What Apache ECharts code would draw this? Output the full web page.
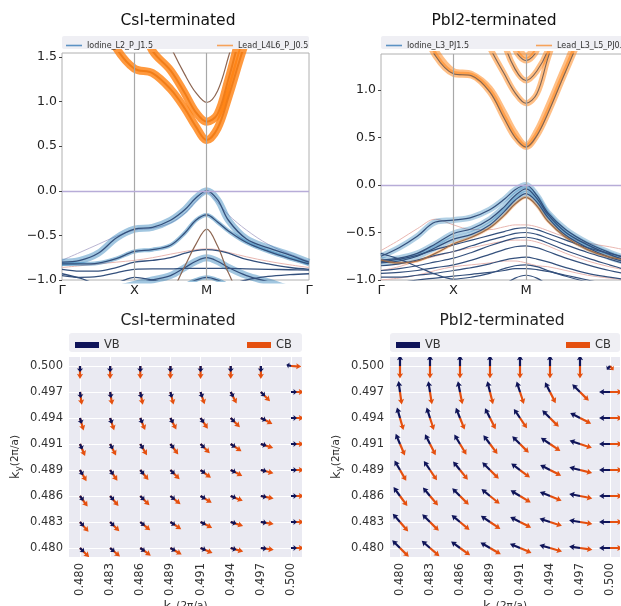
<!DOCTYPE html>
<html><head><meta charset="utf-8">
<script src="https://cdn.jsdelivr.net/npm/echarts@6/dist/echarts.min.js"></script>
<style>html,body{margin:0;padding:0;background:#fff}#c{width:621px;height:606px}</style>
</head><body><div id="c"></div>
<script>
// ---------- band-structure data ----------
const kPath = [0, 0.25, 0.5, 0.75, 1.0, 1.25, 1.5, 1.7, 1.85, 2.0, 2.15, 2.3, 2.55, 2.85, 3.15, 3.414];
const kTickPos = [0, 1, 2, 3.414];
const kTickLabels = ['Γ', 'X', 'M', 'Γ'];
const eTicksCsI = [-1.0, -0.5, 0.0, 0.5, 1.0, 1.5];
const eTickLabelsCsI = ['−1.0', '−0.5', '0.0', '0.5', '1.0', '1.5'];
const eTicksPbI2 = [-1.0, -0.5, 0.0, 0.5, 1.0];
const eTickLabelsPbI2 = ['−1.0', '−0.5', '0.0', '0.5', '1.0'];
const fermiLevel = 0.0;

// CsI-terminated
const csiCB1 = [2.6, 2.3, 2.0, 1.6, 1.37, 1.32, 1.14, 0.92, 0.72, 0.57, 0.70, 1.05, 1.70, 2.3, 2.6, 2.7];
const csiCB2 = [2.8, 2.6, 2.4, 2.2, 2.0, 1.57, 1.35, 1.09, 0.88, 0.775, 0.86, 1.25, 1.95, 2.4, 2.6, 2.7];
const csiCB3 = [2.8, 2.7, 2.6, 2.5, 2.4, 2.1, 1.62, 1.30, 1.10, 0.99, 1.12, 1.50, 2.2, 2.6, 2.7, 2.8];
const csiV1  = [-0.80, -0.78, -0.70, -0.53, -0.43, -0.41, -0.33, -0.21, -0.08, 0.0, -0.10, -0.33, -0.54, -0.64, -0.72, -0.80];
const csiV1b = [-0.78, -0.69, -0.60, -0.51, -0.44, -0.42, -0.36, -0.25, -0.12, -0.02, -0.13, -0.27, -0.44, -0.60, -0.71, -0.79];
const csiV2  = [-0.82, -0.82, -0.81, -0.76, -0.68, -0.66, -0.61, -0.47, -0.33, -0.27, -0.35, -0.45, -0.58, -0.68, -0.76, -0.82];
const csiV3  = [-1.5, -1.5, -1.5, -1.5, -1.45, -1.35, -1.15, -0.84, -0.60, -0.43, -0.62, -0.92, -1.3, -1.5, -1.5, -1.5];
const csiV3p = [-0.86, -0.84, -0.82, -0.80, -0.78, -0.75, -0.71, -0.68, -0.66, -0.65, -0.66, -0.69, -0.74, -0.79, -0.83, -0.86];
const csiV4  = [-0.88, -0.90, -0.90, -0.86, -0.80, -0.78, -0.75, -0.70, -0.67, -0.66, -0.67, -0.70, -0.77, -0.82, -0.86, -0.88];
const csiV5  = [-1.2, -1.2, -1.15, -1.1, -1.05, -1.0, -0.95, -0.86, -0.79, -0.75, -0.79, -0.86, -0.95, -1.02, -1.1, -1.15];
const csiV6  = [-0.95, -0.97, -0.96, -0.92, -0.88, -0.875, -0.875, -0.87, -0.87, -0.87, -0.87, -0.87, -0.875, -0.88, -0.885, -0.89];
const csiV7  = [-1.3, -1.3, -1.3, -1.3, -1.3, -1.25, -1.15, -1.06, -1.0, -0.97, -1.0, -1.06, -1.15, -1.25, -1.3, -1.3];
const csiV8  = [-0.93, -0.98, -1.04, -1.03, -0.97, -1.0, -1.06, -1.12, -1.15, -1.16, -1.12, -1.06, -1.0, -0.96, -0.94, -0.93];

// PbI2-terminated
const pbCB1  = [2.2, 2.0, 1.75, 1.36, 1.17, 1.15, 0.98, 0.70, 0.50, 0.40, 0.52, 0.75, 1.2, 1.7, 2.0, 2.2];
const pbCB1b = [2.25, 2.05, 1.8, 1.42, 1.20, 1.17, 1.02, 0.76, 0.55, 0.42, 0.57, 0.82, 1.27, 1.78, 2.05, 2.25];
const pbCB2  = [2.6, 2.5, 2.4, 2.3, 2.2, 1.9, 1.45, 1.17, 0.97, 0.86, 0.96, 1.33, 1.9, 2.4, 2.5, 2.6];
const pbCB3  = [2.8, 2.8, 2.8, 2.7, 2.6, 2.4, 2.2, 1.50, 1.22, 1.10, 1.20, 1.42, 2.1, 2.6, 2.8, 2.8];
const pbCB4  = [2.8, 2.8, 2.8, 2.8, 2.8, 2.7, 2.5, 1.90, 1.43, 1.31, 1.42, 1.90, 2.5, 2.8, 2.8, 2.8];
const pbCB5  = [2.8, 2.8, 2.8, 2.8, 2.8, 2.8, 2.7, 2.2, 1.55, 1.36, 1.52, 2.2, 2.7, 2.8, 2.8, 2.8];
const pbV1 = [-0.75, -0.66, -0.54, -0.39, -0.37, -0.34, -0.26, -0.15, -0.05, 0.0, -0.11, -0.29, -0.47, -0.61, -0.71, -0.78];
const pbV2 = [-0.79, -0.77, -0.72, -0.62, -0.51, -0.46, -0.36, -0.23, -0.11, -0.04, -0.14, -0.31, -0.50, -0.63, -0.73, -0.80];
const pbV3 = [-0.82, -0.80, -0.75, -0.66, -0.57, -0.52, -0.42, -0.28, -0.16, -0.09, -0.18, -0.34, -0.53, -0.66, -0.76, -0.82];
const pbV4 = [-0.79, -0.82, -0.80, -0.72, -0.62, -0.55, -0.45, -0.32, -0.20, -0.13, -0.22, -0.38, -0.55, -0.68, -0.76, -0.79];
const pbL1 = [-0.81, -0.78, -0.74, -0.68, -0.63, -0.58, -0.53, -0.49, -0.46, -0.45, -0.47, -0.51, -0.58, -0.66, -0.72, -0.77];
const pbL2 = [-0.85, -0.83, -0.79, -0.74, -0.70, -0.64, -0.58, -0.54, -0.51, -0.50, -0.52, -0.56, -0.63, -0.71, -0.78, -0.84];
const pbL3 = [-0.90, -0.88, -0.85, -0.81, -0.77, -0.71, -0.64, -0.59, -0.56, -0.55, -0.57, -0.61, -0.69, -0.77, -0.84, -0.90];
const pbL4 = [-0.93, -0.92, -0.90, -0.87, -0.84, -0.79, -0.73, -0.68, -0.65, -0.64, -0.66, -0.70, -0.77, -0.84, -0.90, -0.94];
const pbL5 = [-0.97, -0.97, -0.95, -0.93, -0.90, -0.87, -0.83, -0.79, -0.77, -0.76, -0.78, -0.81, -0.87, -0.93, -0.97, -1.0];
const pbL6 = [-1.05, -1.03, -1.0, -0.98, -0.96, -0.94, -0.92, -0.90, -0.88, -0.88, -0.89, -0.91, -0.95, -1.0, -1.05, -1.08];
const pbL7 = [-1.3, -1.3, -1.3, -1.3, -1.3, -1.25, -1.15, -1.05, -0.98, -0.95, -0.98, -1.05, -1.15, -1.25, -1.3, -1.3];
const pbL8 = [-0.72, -0.78, -0.86, -0.94, -0.99, -0.97, -0.93, -0.88, -0.85, -0.84, -0.86, -0.90, -0.96, -1.02, -1.06, -1.1];
const pbP1 = [-0.69, -0.58, -0.46, -0.36, -0.42, -0.47, -0.47, -0.44, -0.42, -0.42, -0.44, -0.48, -0.55, -0.61, -0.65, -0.69];
const pbP2 = [-0.90, -0.86, -0.80, -0.75, -0.70, -0.66, -0.62, -0.59, -0.58, -0.58, -0.60, -0.64, -0.72, -0.80, -0.86, -0.90];
const pbP3 = [-1.0, -0.98, -0.95, -0.90, -0.86, -0.84, -0.82, -0.80, -0.80, -0.82, -0.85, -0.86, -0.90, -0.95, -0.98, -1.0];

// ---------- spin-texture data ----------
const kxVals = [0.480, 0.482857, 0.485714, 0.488571, 0.491429, 0.494286, 0.497143, 0.500];
const kyVals = [0.500, 0.497143, 0.494286, 0.491429, 0.488571, 0.485714, 0.482857, 0.480]; // rows top -> bottom
const kTickText = ['0.480', '0.483', '0.486', '0.489', '0.491', '0.494', '0.497', '0.500'];
const kTickTextY = ['0.500', '0.497', '0.494', '0.491', '0.489', '0.486', '0.483', '0.480'];
// arrow angles in degrees (rows top->bottom, columns kx 0.480 -> 0.500)
const csiCBAng = [
  -90,-90,-90,-90,-90,-90,-90,-3,
  -82,-81,-79,-76,-72,-63,-45,0,
  -74,-72,-68,-63,-56,-45,-27,0,
  -67,-63,-59,-53,-45,-34,-18,0,
  -60,-56,-51,-45,-37,-27,-14,0,
  -54,-50,-45,-39,-31,-22,-11,0,
  -49,-45,-40,-34,-27,-18,-9,0,
  -45,-41,-36,-30,-23,-16,-8,0];
const csiVBAng = [
  -90,-90,-90,-90,-90,-90,-90,165,
  -82,-81,-79,-76,-72,-63,-45,0,
  -74,-72,-68,-63,-56,-45,-27,0,
  -67,-63,-59,-53,-45,-34,-18,0,
  -60,-56,-51,-45,-37,-27,-14,0,
  -54,-50,-45,-39,-31,-22,-11,0,
  -49,-45,-40,-34,-27,-18,-9,0,
  -45,-41,-36,-30,-23,-16,-8,0];
const pbCBAng = [
  -90,-90,-90,-90,-90,-90,-90,-50,
  -82,-81,-79,-76,-72,-63,-45,0,
  -74,-72,-68,-63,-56,-45,-27,0,
  -67,-63,-59,-53,-45,-34,-18,0,
  -60,-56,-51,-45,-37,-27,-14,0,
  -54,-50,-45,-39,-31,-22,-11,0,
  -49,-45,-40,-34,-27,-18,-9,0,
  -45,-41,-36,-30,-23,-16,-8,0];
const pbVBAng = [
  90,90,90,90,90,90,90,-130,
  98,99,101,104,108,117,135,180,
  106,108,112,117,124,135,153,180,
  113,117,121,127,135,146,162,180,
  120,124,129,135,143,153,166,180,
  126,130,135,141,149,158,169,180,
  131,135,140,146,153,162,171,180,
  135,139,144,150,157,164,172,180];
// relative arrow magnitudes (only the M corner differs)
const csiMag = [1,1,1,1,1,1,1,0.8, 1,1,1,1,1,1,1,1, 1,1,1,1,1,1,1,1, 1,1,1,1,1,1,1,1, 1,1,1,1,1,1,1,1, 1,1,1,1,1,1,1,1, 1,1,1,1,1,1,1,1, 1,1,1,1,1,1,1,1];
const pbMag  = [1,1,1,1,1,1,1,0.45, 1,1,1,1,1,1,1,1, 1,1,1,1,1,1,1,1, 1,1,1,1,1,1,1,1, 1,1,1,1,1,1,1,1, 1,1,1,1,1,1,1,1, 1,1,1,1,1,1,1,1, 1,1,1,1,1,1,1,1];

// ---------- helpers ----------
const FONT = 'DejaVu Sans';
function lookup(vals, labels) {
  return function (v) {
    for (let i = 0; i < vals.length; i++) if (Math.abs(vals[i] - v) < 1e-6) return labels[i];
    return '';
  };
}
function bandSeries(name, gi, bands, lineStyle, z) {
  return bands.map(b => ({
    type: 'line', name: name, xAxisIndex: gi, yAxisIndex: gi,
    data: kPath.map((k, j) => [k, b[j]]),
    smooth: 0.35, showSymbol: false, symbol: 'none', silent: true,
    lineStyle: lineStyle, z: z, clip: true
  }));
}
function quiverData(ang, mag) {
  const out = [];
  for (let r = 0; r < 8; r++) for (let c = 0; c < 8; c++) {
    out.push([kxVals[c], kyVals[r], ang[r * 8 + c], mag[r * 8 + c]]);
  }
  return out;
}
function arrowRender(lenPx, color) {
  return function (params, api) {
    const p = api.coord([api.value(0), api.value(1)]);
    const a = api.value(2) * Math.PI / 180;
    const L = lenPx * api.value(3);
    const ux = Math.cos(a), uy = -Math.sin(a);
    const nx = -uy, ny = ux;
    const hw = 1.1, hh = 3.1;
    const hl = Math.min(5.2, L * 0.6), ha = hl * 0.88;
    const pt = (s, t) => [p[0] + ux * s + nx * t, p[1] + uy * s + ny * t];
    return {
      type: 'polygon',
      shape: { points: [pt(0, hw), pt(L - ha, hw), pt(L - hl, hh), pt(L, 0), pt(L - hl, -hh), pt(L - ha, -hw), pt(0, -hw)] },
      style: { fill: color }
    };
  };
}
function quiverSeries(name, gi, ang, mag, lenPx, color, z) {
  return {
    type: 'custom', name: name, xAxisIndex: gi, yAxisIndex: gi,
    data: quiverData(ang, mag), encode: { x: 0, y: 1 },
    renderItem: arrowRender(lenPx, color), itemStyle: { color: color },
    clip: true, silent: true, z: z
  };
}

const C_DARK = '#34507c', C_BROWN = '#8d6652', C_PINK = '#e9b7b1', C_LAV = '#bab5d2';
const C_VB = '#0f1459', C_CB = '#e5500f';

const refLines = (gi) => ({
  type: 'line', name: 'ref' + gi, xAxisIndex: gi, yAxisIndex: gi, data: [], silent: true, z: 1,
  markLine: {
    silent: true, symbol: 'none', label: { show: false }, animation: false,
    lineStyle: { color: '#a8a8a8', width: 1.2, type: 'solid' },
    data: [{ xAxis: kTickPos[1] }, { xAxis: kTickPos[2] },
           { yAxis: fermiLevel, lineStyle: { color: '#b7acd8', width: 1.3, type: 'solid' } }]
  }
});

const series = [].concat(
  [refLines(0)],
  bandSeries('csi-lav', 0, [csiV1b], { color: C_LAV, width: 1 }, 2),
  bandSeries('csi-pink', 0, [csiV3p], { color: C_PINK, width: 1 }, 2),
  bandSeries('Iodine_L2_P_J1.5', 0, [csiV1, csiV5], { color: '#1f77b4', width: 7, opacity: 0.42 }, 3),
  bandSeries('csi-bmed', 0, [csiV2, csiV7], { color: '#1f77b4', width: 4, opacity: 0.45 }, 3),
  bandSeries('Lead_L4L6_P_J0.5', 0, [csiCB1, csiCB2], { color: '#ff7f0e', width: 8, opacity: 0.8 }, 3),
  bandSeries('csi-ocore', 0, [csiCB1, csiCB2], { color: '#f07a14', width: 2, opacity: 0.9 }, 4),
  bandSeries('csi-dark', 0, [csiV1, csiV2, csiV4, csiV5, csiV6, csiV7, csiV8], { color: C_DARK, width: 1.3 }, 4),
  bandSeries('csi-brown', 0, [csiCB3, csiV3], { color: C_BROWN, width: 1.2 }, 4),

  [refLines(1)],
  bandSeries('pb-pink', 1, [pbP1, pbP2, pbP3], { color: C_PINK, width: 1 }, 2),
  bandSeries('Iodine_L3_PJ1.5', 1, [pbV1, pbV2, pbV3], { color: '#1f77b4', width: 6, opacity: 0.35 }, 3),
  bandSeries('Lead_L3_L5_PJ0.5', 1, [pbCB1, pbCB1b, pbCB2, pbCB3, pbCB4, pbCB5], { color: '#ff7f0e', width: 6, opacity: 0.5 }, 3),
  bandSeries('pb-ohalo', 1, [pbV4], { color: '#ff7f0e', width: 3, opacity: 0.35 }, 3),
  bandSeries('pb-dark', 1, [pbV1, pbV2, pbV3, pbL1, pbL2, pbL3, pbL4, pbL5, pbL6, pbL7, pbL8], { color: C_DARK, width: 1.2 }, 4),
  bandSeries('pb-cbcore', 1, [pbCB1, pbCB2, pbCB3, pbCB4], { color: '#7d6455', width: 1.1 }, 4),
  bandSeries('pb-brown', 1, [pbV4], { color: '#9a6a48', width: 1.2 }, 4),

  [quiverSeries('CB', 2, csiCBAng, csiMag, 13, C_CB, 5),
   quiverSeries('VB', 2, csiVBAng, csiMag, 6, C_VB, 6),
   quiverSeries('CB', 3, pbCBAng, pbMag, 12.5, C_CB, 5),
   quiverSeries('VB', 3, pbVBAng, pbMag, 11, C_VB, 6)]
);

const bandX = (gi) => ({
  gridIndex: gi, type: 'value', min: 0, max: 3.414,
  axisLine: { show: false }, splitLine: { show: false },
  axisTick: { show: false },
  axisLabel: { customValues: kTickPos, formatter: lookup(kTickPos, kTickLabels), fontSize: 13, color: '#222', margin: 4, fontFamily: FONT, showMinLabel: true, showMaxLabel: true }
});
const bandY = (gi, max, ticks, labels) => ({
  gridIndex: gi, type: 'value', min: -1, max: max,
  axisLine: { show: false }, splitLine: { show: false },
  axisTick: { show: true, customValues: ticks, length: 3, lineStyle: { color: '#444' } },
  axisLabel: { customValues: ticks, formatter: lookup(ticks, labels), fontSize: 12.5, color: '#222', margin: 5, fontFamily: FONT }
});
const nameRich = {
  k: { fontSize: 13, color: '#333', fontFamily: FONT },
  s: { fontSize: 9, color: '#333', fontFamily: FONT, verticalAlign: 'bottom', padding: [6, 0, 0, 0] },
  f: { fontSize: 10.5, color: '#333', fontFamily: FONT }
};
const qX = (gi, min, max) => ({
  gridIndex: gi, type: 'value', min: min, max: max,
  axisLine: { show: false },
  axisTick: { show: false, customValues: kxVals },
  splitLine: { show: true, lineStyle: { color: '#ffffff', width: 1 } },
  axisLabel: { customValues: kxVals, formatter: lookup(kxVals, kTickText), rotate: 90, fontSize: 11.5, color: '#333', margin: 6, fontFamily: FONT },
  name: '{k|k}{s|x}{f|(2π/a)}', nameLocation: 'middle', nameGap: 39,
  nameTextStyle: { rich: nameRich }
});
const qY = (gi) => ({
  gridIndex: gi, type: 'value', min: 0.479011, max: 0.500989,
  axisLine: { show: false },
  axisTick: { show: false, customValues: kyVals },
  splitLine: { show: true, lineStyle: { color: '#ffffff', width: 1 } },
  axisLabel: { customValues: kyVals, formatter: lookup(kyVals, kTickTextY), fontSize: 11.5, color: '#333', margin: 6, fontFamily: FONT },
  name: '{k|k}{s|y}{f|(2π/a)}', nameLocation: 'middle', nameGap: 46, nameRotate: 90,
  nameTextStyle: { rich: nameRich }
});

const legendText = { fontSize: 8, color: '#333', fontFamily: FONT };
const qLegendText = { fontSize: 11.5, color: '#333', fontFamily: FONT };
const option = {
  animation: false,
  backgroundColor: '#ffffff',
  grid: [
    { left: 62, top: 53, width: 247, height: 227, show: true, borderColor: '#b0b0b0', borderWidth: 1, backgroundColor: 'transparent', outerBoundsMode: 'none', containLabel: false },
    { left: 381, top: 54, width: 247.5, height: 226, show: true, borderColor: '#b0b0b0', borderWidth: 1, backgroundColor: 'transparent', outerBoundsMode: 'none', containLabel: false },
    { left: 69, top: 357, width: 233, height: 200, show: true, borderWidth: 0, backgroundColor: '#eaeaf2', outerBoundsMode: 'none', containLabel: false },
    { left: 390, top: 357, width: 230, height: 200, show: true, borderWidth: 0, backgroundColor: '#eaeaf2', outerBoundsMode: 'none', containLabel: false }
  ],
  xAxis: [bandX(0), bandX(1), qX(2, 0.478957, 0.501043), qX(3, 0.479048, 0.500952)],
  yAxis: [bandY(0, 1.545, eTicksCsI, eTickLabelsCsI), bandY(1, 1.379, eTicksPbI2, eTickLabelsPbI2), qY(2), qY(3)],
  legend: [
    { data: [{ name: 'Iodine_L2_P_J1.5', icon: 'rect', itemStyle: { color: '#5b92c4' } }], left: 66, top: 41.5, padding: 0, itemWidth: 16, itemHeight: 1.6, textStyle: legendText, selectedMode: false, z: 10 },
    { data: [{ name: 'Lead_L4L6_P_J0.5', icon: 'rect', itemStyle: { color: '#f6a25a' } }], left: 217, top: 41.5, padding: 0, itemWidth: 16, itemHeight: 1.6, textStyle: legendText, selectedMode: false, z: 10 },
    { data: [{ name: 'Iodine_L3_PJ1.5', icon: 'rect', itemStyle: { color: '#5b92c4' } }], left: 386, top: 41.5, padding: 0, itemWidth: 16, itemHeight: 1.6, textStyle: legendText, selectedMode: false, z: 10 },
    { data: [{ name: 'Lead_L3_L5_PJ0.5', icon: 'rect', itemStyle: { color: '#f6a25a' } }], left: 536, top: 41.5, padding: 0, itemWidth: 16, itemHeight: 1.6, textStyle: legendText, selectedMode: false, z: 10 },
    { data: [{ name: 'VB', icon: 'rect', itemStyle: { color: C_VB } }], left: 75, top: 339, padding: 0, itemWidth: 24, itemHeight: 6, textStyle: qLegendText, selectedMode: false, z: 10 },
    { data: [{ name: 'CB', icon: 'rect', itemStyle: { color: C_CB } }], left: 247, top: 339, padding: 0, itemWidth: 24, itemHeight: 6, textStyle: qLegendText, selectedMode: false, z: 10 },
    { data: [{ name: 'VB', icon: 'rect', itemStyle: { color: C_VB } }], left: 396, top: 339, padding: 0, itemWidth: 24, itemHeight: 6, textStyle: qLegendText, selectedMode: false, z: 10 },
    { data: [{ name: 'CB', icon: 'rect', itemStyle: { color: C_CB } }], left: 566, top: 339, padding: 0, itemWidth: 24, itemHeight: 6, textStyle: qLegendText, selectedMode: false, z: 10 }
  ],
  graphic: [
    { type: 'rect', z: 0, shape: { x: 62, y: 36, width: 247, height: 13, r: 2 }, style: { fill: '#efeff4' }, silent: true },
    { type: 'rect', z: 0, shape: { x: 381, y: 36, width: 250, height: 13, r: 2 }, style: { fill: '#efeff4' }, silent: true },
    { type: 'rect', z: 0, shape: { x: 69, y: 333, width: 233, height: 19, r: 3 }, style: { fill: '#efeff4' }, silent: true },
    { type: 'rect', z: 0, shape: { x: 390, y: 333, width: 230, height: 19, r: 3 }, style: { fill: '#efeff4' }, silent: true },
    { type: 'text', z: 10, x: 178, y: 21, style: { text: 'CsI-terminated', fontSize: 15.5, fontFamily: FONT, fill: '#111', textAlign: 'center', textVerticalAlign: 'middle' } },
    { type: 'text', z: 10, x: 494, y: 21, style: { text: 'PbI2-terminated', fontSize: 15.5, fontFamily: FONT, fill: '#111', textAlign: 'center', textVerticalAlign: 'middle' } },
    { type: 'text', z: 10, x: 178, y: 321, style: { text: 'CsI-terminated', fontSize: 15.5, fontFamily: FONT, fill: '#222', textAlign: 'center', textVerticalAlign: 'middle' } },
    { type: 'text', z: 10, x: 502, y: 321, style: { text: 'PbI2-terminated', fontSize: 15.5, fontFamily: FONT, fill: '#222', textAlign: 'center', textVerticalAlign: 'middle' } }
  ],
  series: series
};
const chart = echarts.init(document.getElementById('c'), null, { renderer: 'canvas' });
chart.setOption(option);
</script>
</body></html>
